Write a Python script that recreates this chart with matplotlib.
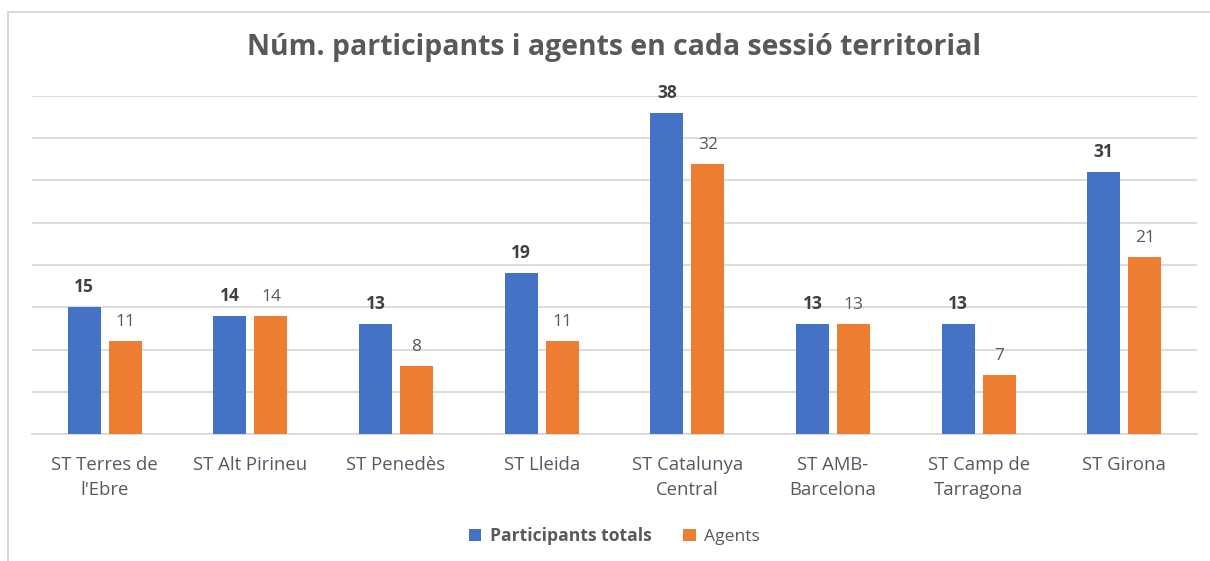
import matplotlib
matplotlib.use('Agg')
import matplotlib.pyplot as plt
from matplotlib.patches import Rectangle
import numpy as np

# Dades
sessions = ["ST Terres de\nl'Ebre", "ST Alt Pirineu", "ST Penedès", "ST Lleida",
            "ST Catalunya\nCentral", "ST AMB-\nBarcelona", "ST Camp de\nTarragona", "ST Girona"]
participants = [15, 14, 13, 19, 38, 13, 13, 31]
agents = [11, 14, 8, 11, 32, 13, 7, 21]

blue = '#4472C4'
orange = '#ED7D31'
grey = '#595959'

plt.rcParams['font.family'] = ['Open Sans', 'DejaVu Sans']

fig = plt.figure(figsize=(12.1, 5.61), dpi=100)
ax = fig.add_axes([32 / 1210, 1 - 434 / 561, (1197 - 32) / 1210, (434 - 96) / 561])

x = np.arange(len(sessions))
w = 0.227
off = 0.141
b1 = ax.bar(x - off, participants, w, color=blue, label='Participants totals', zorder=3)
b2 = ax.bar(x + off, agents, w, color=orange, label='Agents', zorder=3)

for rect, v in zip(b1, participants):
    ax.text(rect.get_x() + rect.get_width() / 2, v + 1.3, str(v), ha='center', va='bottom',
            fontsize=12.5, fontweight='bold', color='#404040')
for rect, v in zip(b2, agents):
    ax.text(rect.get_x() + rect.get_width() / 2, v + 1.3, str(v), ha='center', va='bottom',
            fontsize=12.5, color=grey)

ax.set_xlim(-0.5, len(sessions) - 0.5)
ax.set_ylim(0, 40)
ax.set_yticks(np.arange(0, 41, 5))
ax.yaxis.grid(True, color='#d9d9d9', linewidth=1.3, zorder=0)
ax.tick_params(axis='y', left=False, labelleft=False)
ax.tick_params(axis='x', bottom=False, pad=12)
ax.set_xticks(x)
ax.set_xticklabels(sessions, fontsize=13.3, color=grey, linespacing=1.55)
for s in ['top', 'right', 'left']:
    ax.spines[s].set_visible(False)
ax.spines['bottom'].set_color('#d9d9d9')
ax.spines['bottom'].set_linewidth(1.3)

fig.text(614 / 1210, 1 - 48 / 561, 'Núm. participants i agents en cada sessió territorial',
         ha='center', va='center', fontsize=20.4, fontweight='bold', color=grey)

leg = ax.legend(loc='center', bbox_to_anchor=(0.5, -0.302), ncol=2, frameon=False,
                fontsize=12.6, handlelength=0.7, handleheight=0.7, handletextpad=0.5,
                columnspacing=1.8)
for t in leg.get_texts():
    t.set_color(grey)
leg.get_texts()[0].set_fontweight('bold')

# marc del gràfic
fig.patches.append(Rectangle((8 / 1210, -0.1), 1.2, 1 - 12 / 561 + 0.1, transform=fig.transFigure,
                             fill=False, edgecolor='#d9d9d9', linewidth=1.5))

fig.savefig('out.png', dpi=100)
